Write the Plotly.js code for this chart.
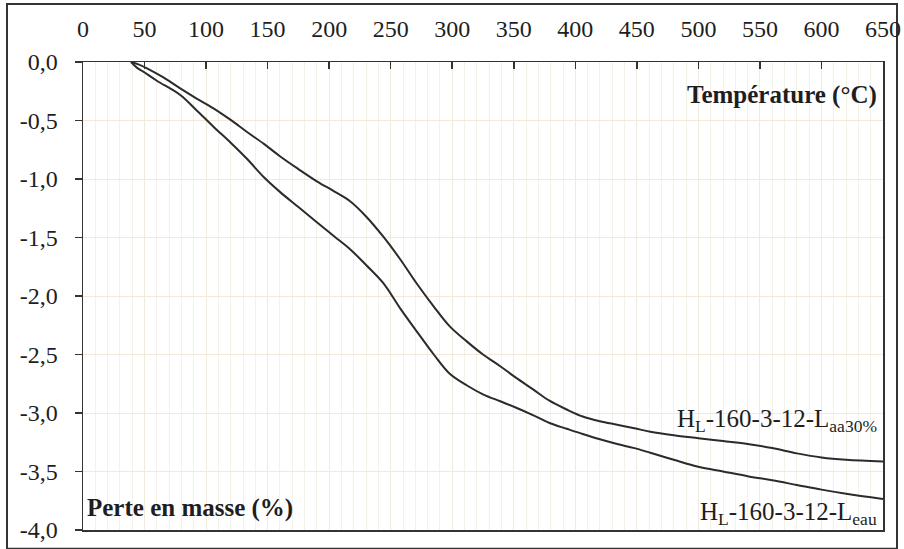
<!DOCTYPE html>
<html>
<head>
<meta charset="utf-8">
<script src="https://cdn.plot.ly/plotly-3.0.1.min.js"></script>
<style>html,body{margin:0;padding:0;background:#fff;}#chart{width:904px;height:549px;}</style>
</head>
<body>
<div id="chart"></div>
<script>
// Température (°C)
var tempAa30 = [39, 45, 52, 65, 79, 92, 106, 120, 133, 147, 160, 175, 190, 204, 217, 230, 244, 258, 271, 285, 298, 312, 325, 339, 352, 366, 379, 393, 406, 420, 434, 448, 461, 480, 500, 520, 540, 560, 580, 600, 620, 650];
// Perte en masse (%) - HL-160-3-12-Laa30%
var massAa30 = [0, -0.02, -0.054, -0.13, -0.225, -0.31, -0.396, -0.495, -0.596, -0.70, -0.805, -0.915, -1.02, -1.105, -1.19, -1.32, -1.493, -1.69, -1.891, -2.09, -2.26, -2.39, -2.50, -2.60, -2.70, -2.80, -2.895, -2.97, -3.03, -3.07, -3.10, -3.13, -3.16, -3.19, -3.215, -3.24, -3.265, -3.30, -3.345, -3.38, -3.40, -3.415];

var tempEau = [39, 44, 49, 60, 79, 92, 106, 120, 133, 147, 160, 175, 190, 204, 217, 230, 244, 258, 271, 285, 298, 312, 325, 339, 352, 366, 379, 393, 406, 420, 434, 448, 461, 480, 500, 520, 540, 560, 580, 600, 620, 650];
// Perte en masse (%) - HL-160-3-12-Leau
var massEau = [0, -0.05, -0.083, -0.16, -0.282, -0.41, -0.553, -0.69, -0.825, -0.985, -1.11, -1.24, -1.37, -1.49, -1.60, -1.735, -1.89, -2.11, -2.30, -2.50, -2.665, -2.765, -2.84, -2.90, -2.955, -3.02, -3.085, -3.135, -3.18, -3.225, -3.265, -3.30, -3.34, -3.40, -3.46, -3.50, -3.54, -3.575, -3.615, -3.655, -3.69, -3.735];

var xTickVals = [0, 50, 100, 150, 200, 250, 300, 350, 400, 450, 500, 550, 600, 650];
var yTickVals = [0, -0.5, -1, -1.5, -2, -2.5, -3, -3.5, -4];
var yTickText = ['0,0', '-0,5', '-1,0', '-1,5', '-2,0', '-2,5', '-3,0', '-3,5', '-4,0'];

var seriesNames = ['H<sub>L</sub>-160-3-12-L<sub>aa30%</sub>', 'H<sub>L</sub>-160-3-12-L<sub>eau</sub>'];

var lineStyle = {color: '#2b2b2b', width: 2, shape: 'spline', smoothing: 1};

var traces = [
  {x: tempAa30, y: massAa30, mode: 'lines', line: lineStyle, name: seriesNames[0], hoverinfo: 'skip'},
  {x: tempEau, y: massEau, mode: 'lines', line: lineStyle, name: seriesNames[1], hoverinfo: 'skip'}
];

var serif = 'Liberation Serif';

var layout = {
  width: 904, height: 549,
  margin: {l: 83, r: 21, t: 62, b: 19},
  paper_bgcolor: '#ffffff',
  plot_bgcolor: '#ffffff',
  showlegend: false,
  font: {family: serif, color: '#1e1e1e', size: 24},
  xaxis: {
    side: 'top',
    range: [0, 650],
    tickvals: xTickVals,
    ticktext: xTickVals.map(String),
    ticks: 'inside', ticklen: 7, tickcolor: '#333', tickwidth: 1.5,
    ticklabelstandoff: 14,
    showline: true, linecolor: '#333', linewidth: 1.5, mirror: true,
    showgrid: true, gridcolor: '#f0ebdd', gridwidth: 1,
    minor: {dtick: 10, tick0: 0, showgrid: true, gridcolor: '#f4f1e9', gridwidth: 1},
    zeroline: false,
    tickfont: {family: serif, size: 24, color: '#1e1e1e'}
  },
  yaxis: {
    range: [-4, 0],
    tickvals: yTickVals,
    ticktext: yTickText,
    ticks: 'outside', ticklen: 7, tickcolor: '#333', tickwidth: 1.5,
    ticklabelstandoff: 12,
    showline: true, linecolor: '#333', linewidth: 1.5, mirror: true,
    showgrid: true, gridcolor: '#f4e8d6', gridwidth: 1,
    zeroline: false,
    tickfont: {family: serif, size: 24, color: '#1e1e1e'}
  },
  shapes: [
    {type: 'rect', xref: 'paper', yref: 'paper', x0: -0.095, x1: 1.0175, y0: -0.04, y1: 1.124,
     line: {color: '#333', width: 2}, fillcolor: 'rgba(0,0,0,0)', layer: 'below'}
  ],
  annotations: [
    {xref: 'paper', yref: 'paper', x: 0.995, y: 0.93, xanchor: 'right', yanchor: 'middle',
     text: '<b>Température (°C)</b>', showarrow: false, font: {family: serif, size: 25, color: '#1e1e1e'}},
    {xref: 'paper', yref: 'paper', x: 0.003, y: 0.047, xanchor: 'left', yanchor: 'middle',
     text: '<b>Perte en masse (%)</b>', showarrow: false, font: {family: serif, size: 25, color: '#1e1e1e'}},
    {xref: 'paper', yref: 'paper', x: 0.995, y: 0.233, xanchor: 'right', yanchor: 'middle',
     text: seriesNames[0], showarrow: false, font: {family: serif, size: 25, color: '#1e1e1e'}},
    {xref: 'paper', yref: 'paper', x: 0.995, y: 0.036, xanchor: 'right', yanchor: 'middle',
     text: seriesNames[1], showarrow: false, font: {family: serif, size: 25, color: '#1e1e1e'}}
  ]
};

Plotly.newPlot('chart', traces, layout, {displayModeBar: false, staticPlot: true});
</script>
</body>
</html>
